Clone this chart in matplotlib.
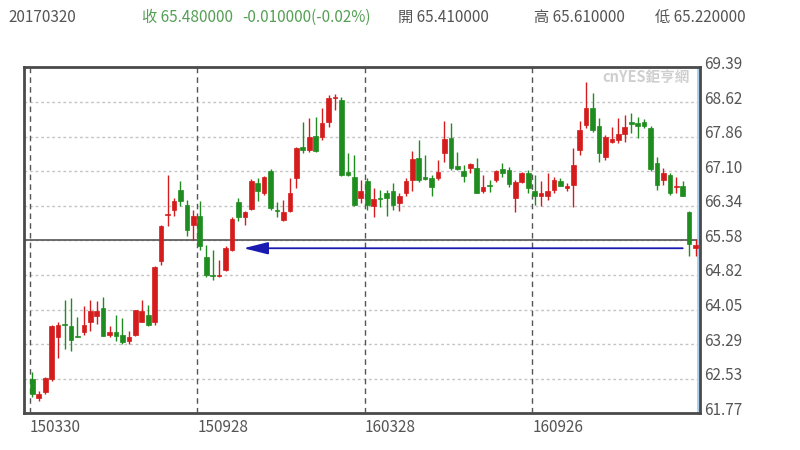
import matplotlib
matplotlib.use("Agg")
import matplotlib.pyplot as plt
from matplotlib.transforms import ScaledTranslation

plt.rcParams['font.family'] = ['Noto Sans CJK TC', 'DejaVu Sans']

# weekly candles 20150330 .. 20170320 (one per week)
opens = [62.53, 62.10, 62.23, 62.53, 63.44, 63.73, 63.68, 63.47, 63.55, 63.77,
         63.90, 64.08, 63.50, 63.55, 63.50, 63.35, 63.48, 63.77, 63.94, 63.77,
         65.11, 66.14, 66.25, 66.69, 66.36, 65.92, 66.10, 65.20, 64.80, 64.78,
         64.93, 65.37, 66.41, 66.08, 66.27, 66.84, 66.62, 67.10, 66.25, 66.03,
         66.21, 66.95, 67.63, 67.57, 67.87, 67.85, 68.18, 68.71, 68.67, 67.08,
         66.97, 66.51, 66.87, 66.32, 66.51, 66.62, 66.65, 66.40, 66.62, 66.91,
         67.39, 66.97, 66.95, 66.95, 67.50, 67.83, 67.21, 67.10, 67.17, 67.17,
         66.67, 66.78, 66.91, 67.15, 67.13, 66.51, 66.86, 67.06, 66.67, 66.54,
         66.54, 66.69, 66.89, 66.73, 66.80, 67.57, 68.12, 68.49, 68.10, 67.41,
         67.74, 67.79, 67.92, 68.18, 68.16, 68.18, 68.05, 67.28, 66.91, 67.02,
         66.75, 66.76, 66.19, 65.41]
highs = [62.67, 62.25, 62.57, 63.72, 63.77, 64.27, 64.31, 63.88, 64.12, 64.27,
         64.23, 64.32, 63.68, 63.94, 63.86, 63.57, 64.05, 64.27, 64.16, 65.01,
         65.92, 67.02, 66.51, 66.87, 66.47, 66.25, 66.43, 65.48, 65.37, 65.15,
         65.44, 66.08, 66.51, 66.21, 66.93, 66.95, 67.00, 67.15, 66.41, 66.47,
         66.95, 67.63, 68.18, 68.27, 68.29, 68.49, 68.78, 68.80, 68.73, 67.50,
         67.46, 66.91, 66.95, 66.73, 66.69, 66.69, 66.84, 66.62, 66.95, 67.55,
         67.79, 67.46, 67.02, 67.35, 68.20, 68.16, 67.52, 67.24, 67.28, 67.39,
         67.02, 66.91, 67.13, 67.28, 67.19, 66.91, 67.08, 67.13, 67.02, 66.87,
         67.06, 66.97, 66.95, 66.84, 67.61, 68.20, 69.06, 68.82, 68.27, 67.90,
         68.07, 68.27, 68.34, 68.38, 68.29, 68.25, 68.10, 67.41, 67.17, 67.06,
         66.97, 66.87, 66.23, 65.61]
lows = [62.12, 62.03, 62.20, 62.47, 62.99, 63.18, 63.13, 63.44, 63.50, 63.57,
        63.73, 63.46, 63.44, 63.35, 63.29, 63.29, 63.46, 63.77, 63.68, 63.72,
        65.04, 65.88, 66.10, 66.32, 65.66, 65.59, 65.37, 64.76, 64.71, 64.76,
        64.89, 65.33, 66.01, 65.92, 66.25, 66.43, 66.58, 66.25, 66.08, 66.00,
        66.19, 66.73, 67.50, 67.52, 67.52, 67.79, 68.07, 68.45, 67.00, 67.00,
        66.34, 66.40, 66.25, 66.08, 66.30, 66.10, 66.25, 66.21, 66.54, 66.67,
        66.86, 66.91, 66.54, 66.91, 67.30, 67.13, 67.13, 66.86, 67.06, 66.62,
        66.62, 66.64, 66.86, 66.97, 66.75, 66.19, 66.84, 66.62, 66.36, 66.34,
        66.47, 66.62, 66.76, 66.65, 66.30, 67.46, 68.05, 67.96, 67.30, 67.35,
        67.72, 67.72, 67.74, 67.94, 67.83, 68.05, 67.10, 66.69, 66.80, 66.58,
        66.62, 66.54, 65.22, 65.22]
closes = [62.19, 62.20, 62.55, 63.68, 63.70, 63.70, 63.39, 63.45, 63.72, 64.01,
          64.01, 63.46, 63.55, 63.47, 63.33, 63.45, 64.03, 64.01, 63.72, 64.99,
          65.88, 66.16, 66.45, 66.43, 65.81, 66.10, 65.45, 64.82, 64.78, 64.82,
          65.41, 66.05, 66.08, 66.19, 66.89, 66.65, 66.97, 66.29, 66.21, 66.19,
          66.62, 67.61, 67.57, 67.85, 67.55, 68.16, 68.71, 68.74, 67.02, 67.02,
          66.36, 66.67, 66.36, 66.49, 66.49, 66.51, 66.36, 66.54, 66.89, 67.37,
          66.91, 66.93, 66.75, 67.08, 67.81, 67.17, 67.15, 66.99, 67.26, 66.62,
          66.75, 66.76, 67.10, 67.06, 66.82, 66.86, 67.06, 66.73, 66.54, 66.62,
          66.65, 66.91, 66.78, 66.78, 67.24, 68.01, 68.49, 68.01, 67.50, 67.85,
          67.81, 67.92, 68.07, 68.14, 68.10, 68.10, 67.15, 66.80, 67.06, 66.62,
          66.78, 66.54, 65.49, 65.48]

date_labels = ["150330", "150928", "160328", "160926"]
date_index = [0, 26, 52, 78]
price_labels = ["61.77", "62.53", "63.29", "64.05", "64.82", "65.58",
                "66.34", "67.10", "67.86", "68.62", "69.39"]
ref_price = 65.58
arrow_price = 65.40
arrow_from, arrow_to = 101, 32.8

header = [("20170320", 0.010, '#555555'),
          ("收 65.480000", 0.178, '#55a055'),
          ("-0.010000(-0.02%)", 0.303, '#55a055'),
          ("開 65.410000", 0.497, '#555555'),
          ("高 65.610000", 0.667, '#555555'),
          ("低 65.220000", 0.819, '#555555')]

RED = '#d41c1c'
GREEN = '#1f8c1f'

fig = plt.figure(figsize=(8, 4.5), dpi=100)
ax = fig.add_axes([0.03, 0.082, 0.845, 0.769])

ymin, ymax = float(price_labels[0]), float(price_labels[-1])
ax.set_ylim(ymin, ymax)
ax.set_xlim(-1.29, 103.68)

# grid
for p in price_labels[1:-1]:
    ax.axhline(float(p), color='#c4c4c4', lw=1, ls=(0, (2, 2)), zorder=0)
for d in date_index:
    ax.axvline(d - 0.35, color='#555555', lw=1, ls=(0, (4, 3)), zorder=0)
ax.axhline(ref_price, color='#555555', lw=1.2, zorder=1)
ax.axvline(103.35, color='#a8d0ee', lw=2, zorder=1)

# candles
for i in range(len(opens)):
    o, h, l, c = opens[i], highs[i], lows[i], closes[i]
    col = RED if c >= o else GREEN
    ax.vlines(i, l, h, color=col, lw=1, zorder=2)
    body = max(abs(c - o), 0.025)
    ax.bar(i, body, bottom=min(o, c), width=0.72, color=col,
           edgecolor=col, lw=0.5, zorder=3)

ax.annotate('', xy=(arrow_to, arrow_price), xytext=(arrow_from, arrow_price),
            arrowprops=dict(arrowstyle='-|>,head_length=1.0,head_width=0.25',
                            mutation_scale=15, color='#1a1ab0', lw=1.3,
                            shrinkA=0, shrinkB=0), zorder=4)

ax.text(0.985, 0.972, "cnYES鉅亨網", transform=ax.transAxes, ha='right',
        va='center', color='#cfcfcf', fontsize=10.5, fontweight='bold')

# axes styling
for s in ax.spines.values():
    s.set_color('#4a4a4a')
    s.set_linewidth(2)
ax.yaxis.tick_right()
ax.set_yticks([float(p) for p in price_labels], price_labels)
ax.tick_params(axis='y', length=0, pad=3, labelsize=11, labelcolor='#555555')
for lbl in ax.get_yticklabels():
    lbl.set_transform(lbl.get_transform() + ScaledTranslation(0, 0.05, fig.dpi_scale_trans))
ax.set_xticks([d - 0.35 for d in date_index], date_labels)
ax.tick_params(axis='x', length=0, pad=4, labelsize=11, labelcolor='#555555')
for lbl in ax.get_xticklabels():
    lbl.set_horizontalalignment('left')

for txt, x, col in header:
    fig.text(x, 0.962, txt, color=col, fontsize=11, va='center', ha='left')

fig.savefig("out.png", dpi=100, facecolor='white')
